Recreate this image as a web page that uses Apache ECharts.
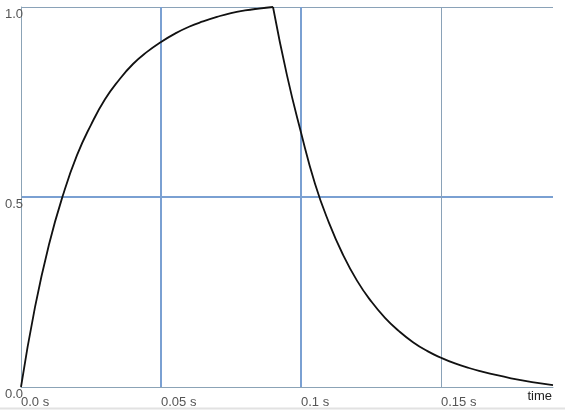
<!DOCTYPE html>
<html><head><meta charset="utf-8">
<script src="https://cdn.jsdelivr.net/npm/echarts@6/dist/echarts.min.js"></script>
<style>html,body{margin:0;padding:0;background:#fff}#c{width:565px;height:411px}</style>
</head><body><div id="c"></div>
<script>
// rising phase: time (s) and value
var riseTimes = [0,0.005,0.01,0.015,0.02,0.025,0.03,0.035,0.04,0.045,0.05,0.055,0.06,0.065,0.07,0.075,0.08,0.085,0.09];
var riseValues = [0,0.21,0.375,0.505,0.61,0.69,0.757,0.808,0.85,0.882,0.908,0.93,0.948,0.962,0.974,0.984,0.991,0.996,1.0];
// decay phase: time (s) and value
var decayTimes = [0.09,0.095,0.1,0.105,0.11,0.115,0.12,0.125,0.13,0.135,0.14,0.145,0.15,0.155,0.16,0.165,0.17,0.175,0.18,0.185,0.19];
var decayValues = [1.0,0.82,0.67,0.535,0.432,0.348,0.28,0.226,0.182,0.147,0.118,0.095,0.077,0.062,0.05,0.04,0.031,0.023,0.016,0.01,0.005];
var xTicks = [0,0.05,0.1,0.15];
var xTickLabels = ['0.0 s','0.05 s','0.1 s','0.15 s'];
var yTickLabels = ['0.0','0.5','1.0'];
var axisName = 'time';

function pairs(ts, vs){return ts.map(function(t,i){return [t, vs[i]];});}
var font = 'Liberation Sans, Arial, sans-serif';
var axisCol = '#8ba3b6', blue = '#7aa0d2', gray = '#8aa2b8', T = 'rgba(0,0,0,0)';
function xLab(v){var i = xTicks.findIndex(function(t){return Math.abs(t-v)<1e-9;}); return i<0?'':xTickLabels[i];}
function yLab(v){var i = Math.round(v/0.5); return (Math.abs(v-i*0.5)<1e-9 && yTickLabels[i])?yTickLabels[i]:'';}
var chart = echarts.init(document.getElementById('c'), null, {renderer:'canvas'});
var lineStyle = {color:'#111', width:1.8};
chart.setOption({
  animation:false,
  grid:{left:21, right:12, top:7, bottom:24},
  xAxis:[{type:'value', min:0, max:0.19, interval:0.05,
    name:axisName, nameLocation:'end', nameGap:-1,
    nameTextStyle:{align:'right', verticalAlign:'top', padding:[3,0,0,0], color:'#222', fontSize:13, fontFamily:font},
    axisLine:{show:true, lineStyle:{color:axisCol, width:1}}, axisTick:{show:false},
    axisLabel:{formatter:xLab, align:'left', margin:9, color:'#555', fontSize:13, fontFamily:font, showMaxLabel:false},
    splitLine:{show:true, lineStyle:{color:[T,blue,blue,T,T], width:2}}},
   {type:'value', min:0, max:0.19, interval:0.05, position:'bottom', axisLine:{show:false}, axisTick:{show:false}, axisLabel:{show:false},
    splitLine:{show:true, lineStyle:{color:[T,T,T,gray,T], width:1}}}],
  yAxis:[{type:'value', min:0, max:1, interval:0.5,
    axisLine:{show:true, lineStyle:{color:axisCol, width:1}}, axisTick:{show:false},
    axisLabel:{formatter:yLab, margin:-2, verticalAlign:'top', padding:[1,0,0,0], color:'#555', fontSize:13, fontFamily:font},
    splitLine:{show:true, lineStyle:{color:[T,blue,T], width:2}}},
   {type:'value', min:0, max:1, interval:0.5, position:'left', axisLine:{show:false}, axisTick:{show:false}, axisLabel:{show:false},
    splitLine:{show:true, lineStyle:{color:[T,T,gray], width:1}}}],
  graphic:[{type:'line', shape:{x1:0,y1:408.5,x2:565,y2:408.5}, style:{stroke:'#e2e2e2', lineWidth:2}, silent:true}],
  series:[
    {type:'line', data:pairs(riseTimes, riseValues), showSymbol:false, smooth:true, lineStyle:lineStyle, z:5},
    {type:'line', data:pairs(decayTimes, decayValues), showSymbol:false, smooth:true, lineStyle:lineStyle, z:5}
  ]
});
</script></body></html>
